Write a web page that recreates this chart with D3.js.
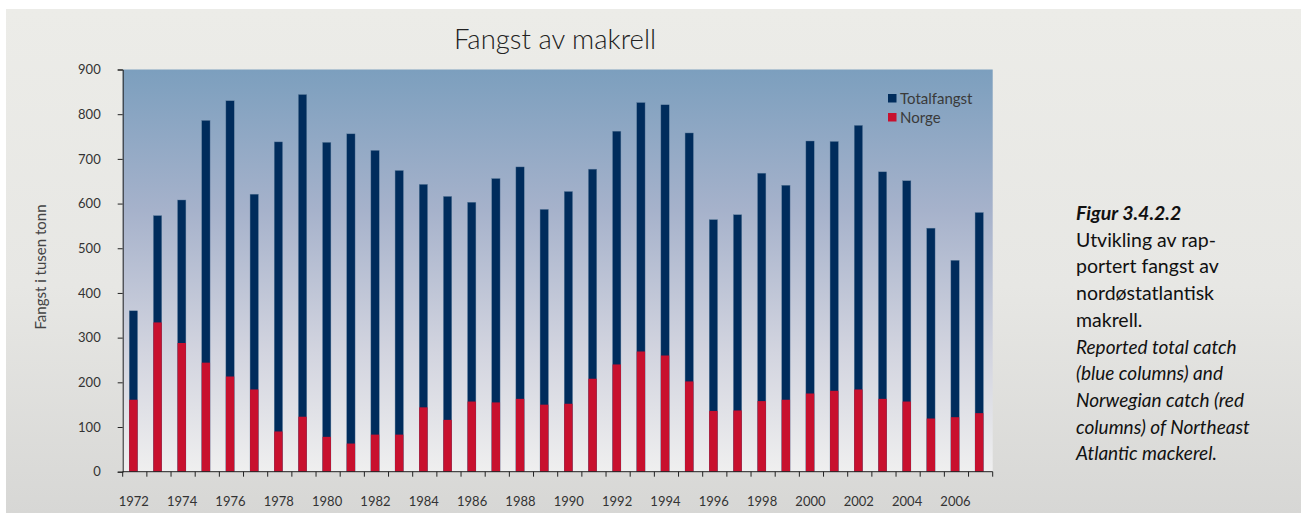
<!DOCTYPE html>
<html>
<head>
<meta charset="utf-8">
<script src="https://cdn.jsdelivr.net/npm/d3@7"></script>
<style>
  html, body { margin: 0; padding: 0; background: #fff; }
  svg { display: block; font-family: Lato, "Open Sans", sans-serif; }
</style>
</head>
<body>
<script>
// data, thousand tonnes
const years = d3.range(1972, 2008);
const totalCatch = [360, 573, 608, 786, 830, 621, 738, 844, 737, 756, 719, 674,
  643, 616, 603, 656, 682, 587, 627, 677, 762, 826, 821, 758,
  564, 575, 668, 641, 740, 739, 775, 671, 651, 545, 473, 580];
const norwayCatch = [161, 334, 288, 244, 213, 184, 90, 123, 78, 63, 83, 83,
  144, 116, 157, 155, 163, 150, 152, 208, 240, 269, 260, 202,
  136, 137, 158, 161, 175, 181, 184, 163, 157, 119, 122, 131];
const yTicks = [0, 100, 200, 300, 400, 500, 600, 700, 800, 900];
const seriesNames = ['Totalfangst', 'Norge'];
const seriesColors = ['#002c5c', '#c8102e'];
const captionLines = [
  {text: 'Figur 3.4.2.2', style: 'bolditalic'},
  {text: 'Utvikling av rap-', style: 'normal'},
  {text: 'portert fangst av', style: 'normal'},
  {text: 'nordøstatlantisk', style: 'normal'},
  {text: 'makrell.', style: 'normal'},
  {text: 'Reported total catch', style: 'italic'},
  {text: '(blue columns) and', style: 'italic'},
  {text: 'Norwegian catch (red', style: 'italic'},
  {text: 'columns) of Northeast', style: 'italic'},
  {text: 'Atlantic mackerel.', style: 'italic'}
];

const width = 1301, height = 513;
const plot = {left: 122.7, right: 992.7, top: 69.5, bottom: 471.7};

let svg = d3.select('body').append('svg')
  .attr('width', width)
  .attr('height', height);

let defs = svg.append('defs');

let bgGrad = defs.append('linearGradient')
  .attr('id', 'bg-grad')
  .attr('x1', 0).attr('y1', 0).attr('x2', 0).attr('y2', 1);
bgGrad.append('stop').attr('offset', '0%').attr('stop-color', '#ececE8');
bgGrad.append('stop').attr('offset', '55%').attr('stop-color', '#e7e7e4');
bgGrad.append('stop').attr('offset', '100%').attr('stop-color', '#d7d7d5');

let plotGrad = defs.append('linearGradient')
  .attr('id', 'plot-grad')
  .attr('x1', 0).attr('y1', 0).attr('x2', 0).attr('y2', 1);
plotGrad.append('stop').attr('offset', '0%').attr('stop-color', '#7c9fbe');
plotGrad.append('stop').attr('offset', '35%').attr('stop-color', '#a6b2cb');
plotGrad.append('stop').attr('offset', '70%').attr('stop-color', '#d2d4df');
plotGrad.append('stop').attr('offset', '100%').attr('stop-color', '#efefef');

// grey page panel
svg.append('rect')
  .attr('x', 6).attr('y', 9)
  .attr('width', width - 6).attr('height', height - 9)
  .attr('fill', 'url(#bg-grad)');

let x = d3.scaleBand()
  .domain(years)
  .range([plot.left, plot.right])
  .padding(0);

let y = d3.scaleLinear()
  .domain([0, 900])
  .range([plot.bottom, plot.top]);

svg.append('rect')
  .attr('x', plot.left).attr('y', plot.top)
  .attr('width', plot.right - plot.left)
  .attr('height', plot.bottom - plot.top)
  .attr('fill', 'url(#plot-grad)');

// bars: total behind, Norway in front
const barOffset = x.bandwidth() * 0.27;
const barWidth = x.bandwidth() * 0.345;

let bars = svg.append('g');
bars.selectAll('rect.total')
  .data(years)
  .enter().append('rect')
  .attr('class', 'total')
  .attr('x', d => x(d) + barOffset)
  .attr('y', (d, i) => y(totalCatch[i]))
  .attr('width', barWidth)
  .attr('height', (d, i) => y(0) - y(totalCatch[i]))
  .attr('fill', seriesColors[0])
  .attr('stroke', '#5f7f9f')
  .attr('stroke-width', 0.4);

bars.selectAll('rect.norway')
  .data(years)
  .enter().append('rect')
  .attr('class', 'norway')
  .attr('x', d => x(d) + barOffset)
  .attr('y', (d, i) => y(norwayCatch[i]))
  .attr('width', barWidth)
  .attr('height', (d, i) => y(0) - y(norwayCatch[i]))
  .attr('fill', seriesColors[1]);

// y axis
let yAxis = svg.append('g')
  .attr('transform', 'translate(' + plot.left + ',0)')
  .call(d3.axisLeft(y).tickValues(yTicks).tickSize(5).tickPadding(17));
yAxis.select('.domain').attr('stroke', '#222');
yAxis.selectAll('.tick line').attr('stroke', '#222');
yAxis.selectAll('.tick text')
  .attr('fill', '#333')
  .style('font-size', '13px')
  .style('font-family', 'Lato, sans-serif');

// x axis: ticks on band edges, labels every other year
let xEdges = years.map(d => x(d)).concat([plot.right]);
let xAxis = svg.append('g')
  .attr('transform', 'translate(0,' + plot.bottom + ')');
xAxis.append('line')
  .attr('x1', plot.left).attr('x2', plot.right)
  .attr('stroke', '#222');
xAxis.selectAll('line.tick')
  .data(xEdges)
  .enter().append('line')
  .attr('class', 'tick')
  .attr('x1', d => d).attr('x2', d => d)
  .attr('y1', 0).attr('y2', 5)
  .attr('stroke', '#222');
xAxis.selectAll('text')
  .data(years.filter(d => d % 2 === 0))
  .enter().append('text')
  .attr('x', d => x(d) + x.bandwidth() / 2 - 1)
  .attr('y', 34)
  .attr('text-anchor', 'middle')
  .attr('fill', '#333')
  .style('font-size', '13px')
  .text(d => d);

// title and axis label
svg.append('text')
  .attr('x', 555).attr('y', 49)
  .attr('text-anchor', 'middle')
  .attr('fill', '#222')
  .style('font-size', '27.5px')
  .style('font-weight', 300)
  .text('Fangst av makrell');

svg.append('text')
  .attr('transform', 'translate(46,267) rotate(-90)')
  .attr('text-anchor', 'middle')
  .attr('fill', '#444')
  .style('font-size', '15px')
  .text('Fangst i tusen tonn');

// legend
let legend = svg.append('g')
  .attr('transform', 'translate(888,94)');
seriesNames.forEach(function(name, i) {
  legend.append('rect')
    .attr('x', 0).attr('y', i * 19)
    .attr('width', 8.5).attr('height', 8.5)
    .attr('fill', seriesColors[i]);
  legend.append('text')
    .attr('x', 12).attr('y', i * 19 + 9.5)
    .attr('fill', '#3a3a3a')
    .style('font-size', '15px')
    .text(name);
});

// figure caption
const captionSize = {normal: '19.5px', italic: '19px', bolditalic: '19.5px'};
let caption = svg.append('g')
  .attr('transform', 'translate(1076,0)');
caption.selectAll('text')
  .data(captionLines)
  .enter().append('text')
  .attr('x', 0)
  .attr('y', (d, i) => 220 + i * 26.7)
  .attr('fill', '#111')
  .style('font-size', d => captionSize[d.style])
  .style('font-style', d => d.style === 'normal' ? 'normal' : 'italic')
  .style('font-weight', d => d.style === 'bolditalic' ? 'bold' : 'normal')
  .text(d => d.text);
</script>
</body>
</html>
